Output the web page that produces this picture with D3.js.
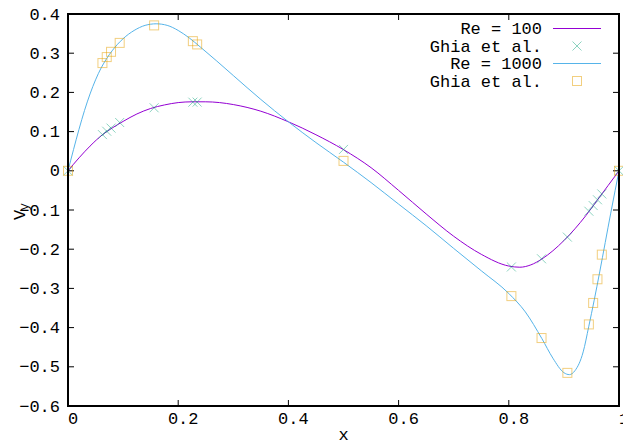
<!DOCTYPE html>
<html>
<head>
<meta charset="utf-8">
<script src="https://cdn.jsdelivr.net/npm/d3@7"></script>
<style>
  body { margin: 0; background: #fff; }
  text { font-family: "Liberation Mono", "DejaVu Sans Mono", monospace; }
</style>
</head>
<body>
<div id="chart"></div>
<script>
// tick values
var xTicks = [0, 0.2, 0.4, 0.6, 0.8, 1];
var yTicks = [0.4, 0.3, 0.2, 0.1, 0, -0.1, -0.2, -0.3, -0.4, -0.5, -0.6];

// simulated curves
var simX100 = [0, 0.02, 0.04, 0.0625, 0.08, 0.1, 0.125, 0.15, 0.175, 0.2, 0.225, 0.25, 0.275, 0.3,
  0.35, 0.4, 0.45, 0.5, 0.55, 0.6, 0.65, 0.7, 0.75, 0.8, 0.82, 0.84, 0.86, 0.88, 0.9, 0.92, 0.94, 0.96, 0.98, 1];
var simV100 = [0, 0.033, 0.063, 0.092, 0.109, 0.126, 0.145, 0.159, 0.168, 0.174, 0.176, 0.176, 0.174, 0.169,
  0.152, 0.125, 0.092, 0.054, 0.008, -0.05, -0.11, -0.167, -0.213, -0.243, -0.246, -0.24, -0.225, -0.204, -0.178, -0.148, -0.114, -0.076, -0.038, 0];

var simX1000 = [0, 0.01, 0.02, 0.03, 0.04, 0.05, 0.06, 0.07, 0.08, 0.1, 0.12, 0.14, 0.16, 0.18, 0.2, 0.22, 0.24,
  0.27, 0.3, 0.35, 0.4, 0.45, 0.5, 0.55, 0.6, 0.65, 0.7, 0.75, 0.8, 0.83, 0.86, 0.88, 0.9, 0.91, 0.92, 0.935,
  0.945, 0.955, 0.965, 0.975, 0.985, 0.993, 1];
var simV1000 = [0, 0.054, 0.106, 0.154, 0.196, 0.232, 0.262, 0.286, 0.306, 0.337, 0.358, 0.371, 0.375, 0.371, 0.358, 0.339, 0.316,
  0.28, 0.243, 0.182, 0.125, 0.072, 0.022, -0.03, -0.085, -0.14, -0.198, -0.255, -0.313, -0.36, -0.428, -0.478, -0.515, -0.52, -0.51, -0.462,
  -0.398, -0.33, -0.258, -0.183, -0.108, -0.05, 0];

// Ghia et al. reference points
var ghiaX = [1.0, 0.9688, 0.9609, 0.9531, 0.9453, 0.9063, 0.8594, 0.8047, 0.5, 0.2344, 0.2266, 0.1563, 0.0938, 0.0781, 0.0703, 0.0625, 0.0];
var ghiaRe100 = [0, -0.05906, -0.07391, -0.08864, -0.10313, -0.16914, -0.22445, -0.24533, 0.05454, 0.17527, 0.17507, 0.16077, 0.12317, 0.1089, 0.10091, 0.09233, 0];
var ghiaRe1000 = [0, -0.21388, -0.27669, -0.33714, -0.39188, -0.5155, -0.42665, -0.31966, 0.02526, 0.32235, 0.33075, 0.37095, 0.32627, 0.30353, 0.29012, 0.27485, 0];

var legendLabels = ["Re = 100", "Ghia et al.", "Re = 1000", "Ghia et al."];

var svgWidth = 623;
var svgHeight = 445;
var margin = { top: 14, right: 4, bottom: 39, left: 68 };
var width = svgWidth - margin.left - margin.right;
var height = svgHeight - margin.top - margin.bottom;

var svg = d3.select("#chart")
  .append("svg")
  .attr("width", svgWidth)
  .attr("height", svgHeight);

var g = svg.append("g")
  .attr("transform", `translate(${margin.left}, ${margin.top})`);

var x = d3.scaleLinear().domain([0, 1]).range([0, width]);
var y = d3.scaleLinear().domain([-0.6, 0.4]).range([height, 0]);

var fmt = function (d) { return d === 0 ? "0" : d3.format("")(+d.toFixed(1)); };

// ticks on all four sides, pointing in
xTicks.forEach(function (t) {
  g.append("line").attr("x1", x(t)).attr("x2", x(t)).attr("y1", height).attr("y2", height - 6)
    .attr("stroke", "#000").attr("stroke-width", 1);
  g.append("line").attr("x1", x(t)).attr("x2", x(t)).attr("y1", 0).attr("y2", 6)
    .attr("stroke", "#000").attr("stroke-width", 1);
  g.append("text").attr("x", x(t) + 5).attr("y", height + 18)
    .attr("text-anchor", "middle").attr("font-size", 17).text(fmt(t));
});
yTicks.forEach(function (t) {
  g.append("line").attr("x1", 0).attr("x2", 6).attr("y1", y(t)).attr("y2", y(t))
    .attr("stroke", "#000").attr("stroke-width", 1);
  g.append("line").attr("x1", width).attr("x2", width - 6).attr("y1", y(t)).attr("y2", y(t))
    .attr("stroke", "#000").attr("stroke-width", 1);
  g.append("text").attr("x", -8).attr("y", y(t) + 1)
    .attr("text-anchor", "end").attr("dominant-baseline", "central")
    .attr("font-size", 17).text(fmt(t));
});

// axis titles
svg.append("text").attr("x", margin.left + width / 2).attr("y", 440)
  .attr("text-anchor", "middle").attr("font-size", 17).text("x");
var yl = svg.append("text").attr("transform", "translate(25, 220) rotate(-90)")
  .attr("font-size", 17);
yl.append("tspan").text("V");
yl.append("tspan").attr("dx", -1).attr("dy", 3).attr("font-size", 13).text("y");

var line = d3.line().curve(d3.curveMonotoneX)
  .x(function (d) { return x(d[0]); })
  .y(function (d) { return y(d[1]); });

var c100 = "#9400d3", cCross = "#009e73", c1000 = "#56b4e9", cSq = "#e69f00";

function cross(sel, cx, cy) {
  sel.append("path")
    .attr("d", `M${cx - 4.5},${cy - 4.5}L${cx + 4.5},${cy + 4.5}M${cx - 4.5},${cy + 4.5}L${cx + 4.5},${cy - 4.5}`)
    .attr("stroke", cCross).attr("stroke-opacity", 0.45).attr("stroke-width", 1).attr("fill", "none");
}
function square(sel, cx, cy) {
  sel.append("rect").attr("x", cx - 4.5).attr("y", cy - 4.5).attr("width", 9).attr("height", 9)
    .attr("stroke", cSq).attr("stroke-opacity", 0.5).attr("stroke-width", 1).attr("fill", "none");
}

g.append("path").datum(d3.zip(simX100, simV100)).attr("d", line)
  .attr("fill", "none").attr("stroke", c100).attr("stroke-width", 1);
ghiaX.forEach(function (d, i) { cross(g, x(d), y(ghiaRe100[i])); });

g.append("path").datum(d3.zip(simX1000, simV1000)).attr("d", line)
  .attr("fill", "none").attr("stroke", c1000).attr("stroke-width", 1);
ghiaX.forEach(function (d, i) { square(g, x(d), y(ghiaRe1000[i])); });

// legend
var rowY = [28.5, 46, 63.5, 81];
legendLabels.forEach(function (lab, i) {
  svg.append("text").attr("x", 542).attr("y", rowY[i] + 1)
    .attr("text-anchor", "end").attr("dominant-baseline", "central")
    .attr("font-size", 17).text(lab);
});
svg.append("line").attr("x1", 553).attr("x2", 601).attr("y1", rowY[0]).attr("y2", rowY[0])
  .attr("stroke", c100).attr("stroke-width", 1);
cross(svg, 577, rowY[1]);
svg.append("line").attr("x1", 553).attr("x2", 601).attr("y1", rowY[2]).attr("y2", rowY[2])
  .attr("stroke", c1000).attr("stroke-width", 1);
square(svg, 577, rowY[3]);

// border
g.append("rect").attr("x", 0).attr("y", 0).attr("width", width).attr("height", height)
  .attr("fill", "none").attr("stroke", "#000").attr("stroke-width", 2);
</script>
</body>
</html>
